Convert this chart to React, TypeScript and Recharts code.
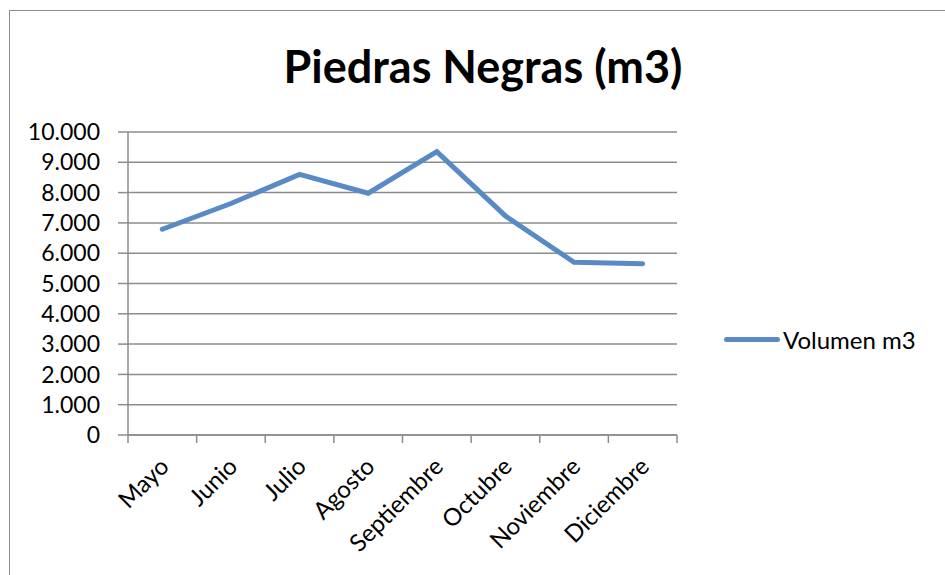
import React from "react";
import { LineChart, Line, XAxis, YAxis, CartesianGrid } from "recharts";

const months = ["Mayo", "Junio", "Julio", "Agosto", "Septiembre", "Octubre", "Noviembre", "Diciembre"];
const volumen = [6790, 7640, 8600, 7980, 9350, 7230, 5700, 5650];
const yTicks = [0, 1000, 2000, 3000, 4000, 5000, 6000, 7000, 8000, 9000, 10000];

const data = months.map((m, i) => ({ month: m, volumen: volumen[i] }));

const W = 945;
const H = 575;
const MARGIN = { top: 132, right: 268, bottom: 139, left: 0 };
const Y_W = 128;
const PLOT_W = W - MARGIN.right - Y_W;
const BW = PLOT_W / months.length;
const GRID = "#8c8c8c";
const BLUE = "#5a8ac6";
const FONT = "Lato, 'Open Sans', sans-serif";

const fmt = (v: number) => String(v).replace(/\B(?=(\d{3})+(?!\d))/g, ".");

const XTick = (props: any) => {
	const { x, y, payload, index } = props;
	const tx = x + 8;
	const ty = y + 33;
	return (
		<g>
			<line x1={x - BW / 2} y1={y} x2={x - BW / 2} y2={y + 8} stroke={GRID} strokeWidth={1.5} />
			{index === months.length - 1 && (
				<line x1={x + BW / 2} y1={y} x2={x + BW / 2} y2={y + 8} stroke={GRID} strokeWidth={1.5} />
			)}
			<text
				x={tx}
				y={ty}
				transform={`rotate(-45, ${tx}, ${ty})`}
				textAnchor="end"
				fontSize={24}
				fontFamily={FONT}
				fill="#000"
			>
				{payload.value}
			</text>
		</g>
	);
};

export default function App() {
	return (
		<div style={{ position: "absolute", left: 0, top: 0, width: W, height: H, overflow: "hidden", background: "#fff" }}>
			<div
				style={{
					position: "absolute",
					left: 9,
					top: 10,
					width: W,
					height: H,
					border: "1.5px solid #8c8c8c",
				}}
			/>
			<div
				style={{
					position: "absolute",
					left: 0,
					width: 966,
					top: 39,
					textAlign: "center",
					fontFamily: FONT,
					fontWeight: 700,
					fontSize: 45,
					color: "#000",
				}}
			>
				Piedras Negras (m3)
			</div>
			<div style={{ position: "absolute", left: 0, top: 0 }}>
				<LineChart width={W} height={H} data={data} margin={MARGIN}>
					<CartesianGrid vertical={false} stroke={GRID} strokeWidth={1.5} />
					<XAxis
						dataKey="month"
						interval={0}
						height={1}
						padding={{ left: BW / 2, right: BW / 2 }}
						tickSize={0}
						tickMargin={0}
						tickLine={false}
						axisLine={{ stroke: GRID, strokeWidth: 1.5 }}
						tick={(p: any) => <XTick {...p} />}
					/>
					<YAxis
						width={Y_W}
						domain={[0, 10000]}
						ticks={yTicks}
						interval={0}
						tickFormatter={fmt}
						tickSize={10}
						tickMargin={18}
						axisLine={{ stroke: GRID, strokeWidth: 1.5 }}
						tickLine={{ stroke: GRID, strokeWidth: 1.5 }}
						tick={{ fontSize: 23, fontFamily: FONT, fill: "#000" }}
					/>
					<Line
						dataKey="volumen"
						stroke={BLUE}
						strokeWidth={5}
						strokeLinecap="round"
						dot={false}
						isAnimationActive={false}
					/>
				</LineChart>
			</div>
			<div style={{ position: "absolute", left: 724, top: 325, display: "flex", alignItems: "center" }}>
				<div style={{ width: 56, height: 5, borderRadius: 3, background: BLUE }} />
				<span style={{ fontFamily: FONT, fontSize: 24, color: "#000", marginLeft: 3 }}>Volumen m3</span>
			</div>
		</div>
	);
}
